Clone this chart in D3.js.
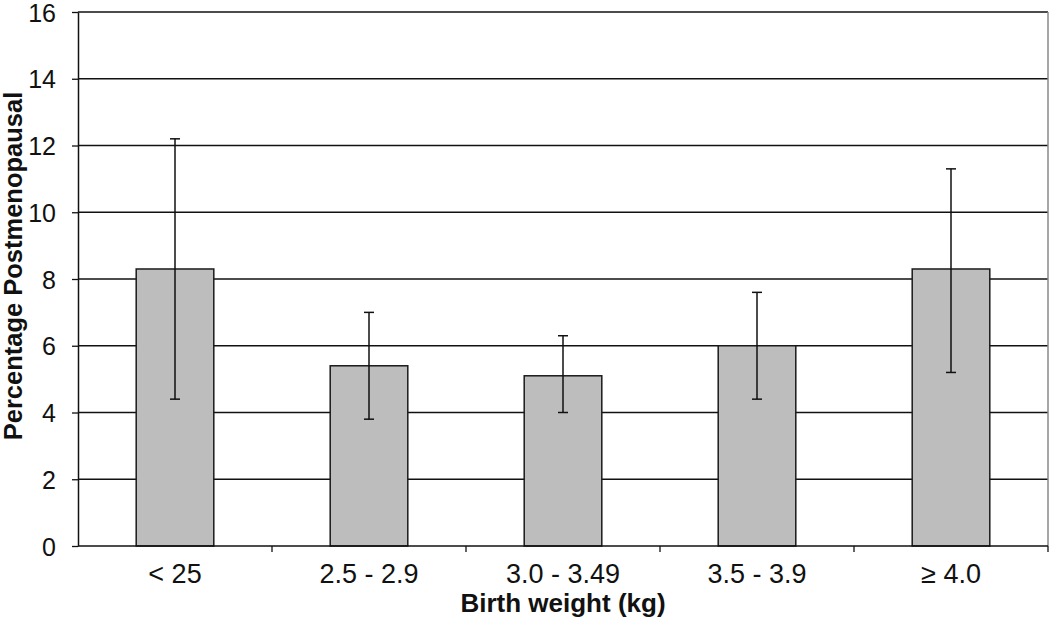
<!DOCTYPE html>
<html>
<head>
<meta charset="utf-8">
<script src="https://cdn.jsdelivr.net/npm/d3@7"></script>
<style>
  body { margin: 0; background: #fff; }
  svg { display: block; font-family: "Liberation Sans", Arial, sans-serif; }
</style>
</head>
<body>
<div id="chart"></div>
<script>
// data
var categories = ["< 25", "2.5 - 2.9", "3.0 - 3.49", "3.5 - 3.9", "\u2265 4.0"];
var values = [8.3, 5.4, 5.1, 6.0, 8.3];
var errLow = [4.4, 3.8, 4.0, 4.4, 5.2];
var errHigh = [12.2, 7.0, 6.3, 7.6, 11.3];
var yTicks = [0, 2, 4, 6, 8, 10, 12, 14, 16];

var width = 1050, height = 620;
var margin = { top: 12, right: 2, bottom: 74, left: 78 };

var svg = d3.select("#chart").append("svg")
  .attr("width", width)
  .attr("height", height);

var x = d3.scaleBand()
  .domain(categories)
  .range([margin.left, width - margin.right])
  .paddingInner(0)
  .paddingOuter(0);

var y = d3.scaleLinear()
  .domain([0, 16])
  .range([height - margin.bottom, margin.top]);

var barW = x.bandwidth() * 0.4;

// grid lines
svg.append("g")
  .selectAll("line")
  .data(yTicks.slice(1))
  .enter().append("line")
  .attr("x1", margin.left)
  .attr("x2", width - margin.right)
  .attr("y1", d => y(d))
  .attr("y2", d => y(d))
  .attr("stroke", "#111")
  .attr("stroke-width", 1.3);

// right border
svg.append("line")
  .attr("x1", width - margin.right).attr("x2", width - margin.right)
  .attr("y1", y(16)).attr("y2", y(0))
  .attr("stroke", "#888")
  .attr("stroke-width", 1.5);

// bars
var data = categories.map((c, i) => ({ c: c, v: values[i], lo: errLow[i], hi: errHigh[i] }));

svg.append("g")
  .selectAll("rect")
  .data(data)
  .enter().append("rect")
  .attr("x", d => x(d.c) + (x.bandwidth() - barW) / 2)
  .attr("y", d => y(d.v))
  .attr("width", barW)
  .attr("height", d => y(0) - y(d.v))
  .attr("fill", "#bdbdbd")
  .attr("stroke", "#1a1a1a")
  .attr("stroke-width", 1.5);

// error bars
var eg = svg.append("g").attr("stroke", "#111").attr("stroke-width", 1.5);
data.forEach(function (d) {
  var cx = x(d.c) + x.bandwidth() / 2;
  eg.append("line").attr("x1", cx).attr("x2", cx).attr("y1", y(d.lo)).attr("y2", y(d.hi));
  eg.append("line").attr("x1", cx - 5).attr("x2", cx + 5).attr("y1", y(d.hi)).attr("y2", y(d.hi));
  eg.append("line").attr("x1", cx - 5).attr("x2", cx + 5).attr("y1", y(d.lo)).attr("y2", y(d.lo));
});

// y axis
var yAxis = svg.append("g")
  .attr("transform", "translate(" + margin.left + ",0)")
  .call(d3.axisLeft(y).tickValues(yTicks).tickSize(6).tickPadding(16).tickSizeOuter(0));
yAxis.attr("font-family", null);
yAxis.select(".domain").attr("stroke", "#111").attr("stroke-width", 1.5);
yAxis.selectAll(".tick line").attr("stroke", "#111").attr("stroke-width", 1.3);
yAxis.selectAll("text").attr("font-size", 25).attr("fill", "#111").attr("dy", "0.36em");

// x axis: ticks on band boundaries
var xAxis = svg.append("g")
  .attr("transform", "translate(0," + y(0) + ")");
xAxis.append("line")
  .attr("x1", margin.left).attr("x2", width - margin.right)
  .attr("stroke", "#111").attr("stroke-width", 1.5);
xAxis.selectAll(".xt")
  .data(categories.slice(1).concat(["end"]))
  .enter().append("line")
  .attr("x1", (d, i) => i < categories.length - 1 ? x(d) : width - margin.right)
  .attr("x2", (d, i) => i < categories.length - 1 ? x(d) : width - margin.right)
  .attr("y1", 0).attr("y2", 6)
  .attr("stroke", "#111").attr("stroke-width", 1.3);
xAxis.selectAll(".xl")
  .data(categories)
  .enter().append("text")
  .attr("x", d => x(d) + x.bandwidth() / 2)
  .attr("y", 37)
  .attr("text-anchor", "middle")
  .attr("font-size", 27)
  .attr("fill", "#111")
  .text(d => d);

// axis titles
svg.append("text")
  .attr("x", x.range()[0] + (x.range()[1] - x.range()[0]) / 2)
  .attr("y", 612)
  .attr("text-anchor", "middle")
  .attr("font-size", 26)
  .attr("font-weight", "bold")
  .attr("fill", "#111")
  .text("Birth weight (kg)");

svg.append("text")
  .attr("transform", "translate(22,266) rotate(-90)")
  .attr("text-anchor", "middle")
  .attr("font-size", 25.5)
  .attr("font-weight", "bold")
  .attr("fill", "#111")
  .text("Percentage Postmenopausal");
</script>
</body>
</html>
